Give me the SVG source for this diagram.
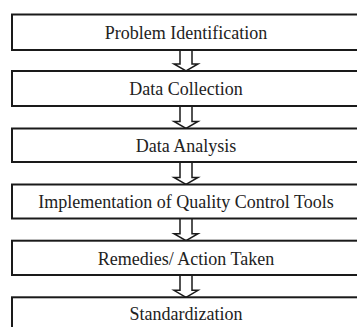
<svg xmlns="http://www.w3.org/2000/svg" width="357" height="327" viewBox="0 0 357 327">
<style>
.box{fill:#fff;stroke:#1a1a1a;stroke-width:2}
.lbl{font-family:"Liberation Serif","Times New Roman",serif;font-size:18px;fill:#222;text-anchor:middle}
.arr{fill:#fff;stroke:#1a1a1a;stroke-width:1.5;stroke-linejoin:miter}
</style>
<rect width="357" height="327" fill="#fff"/>
<g id="connectors">
<path class="arr" d="M180,50 V64 H174 L186,71 L198,64 H192 V50"/>
<path class="arr" d="M180,106 V121.5 H174 L186,128.5 L198,121.5 H192 V106"/>
<path class="arr" d="M180,162 V177.5 H174 L186,184.5 L198,177.5 H192 V162"/>
<path class="arr" d="M180,218.5 V233.7 H174 L186,240.7 L198,233.7 H192 V218.5"/>
<path class="arr" d="M180,275 V290.3 H174 L186,297.3 L198,290.3 H192 V275"/>
</g>
<g id="n1"><rect class="box" x="12" y="14.5" width="350" height="35.5"/><text class="lbl" x="186" y="39">Problem Identification</text></g>
<g id="n2"><rect class="box" x="12" y="71" width="350" height="35"/><text class="lbl" x="186" y="95">Data Collection</text></g>
<g id="n3"><rect class="box" x="12" y="128.5" width="350" height="33.5"/><text class="lbl" x="186" y="152">Data Analysis</text></g>
<g id="n4"><rect class="box" x="12" y="184.5" width="350" height="34"/><text class="lbl" x="186" y="208">Implementation of Quality Control Tools</text></g>
<g id="n5"><rect class="box" x="12" y="240.7" width="350" height="34.3"/><text class="lbl" x="186" y="264.5">Remedies/ Action Taken</text></g>
<g id="n6"><rect class="box" x="12" y="297.3" width="350" height="40"/><text class="lbl" x="186" y="320">Standardization</text></g>
</svg>
